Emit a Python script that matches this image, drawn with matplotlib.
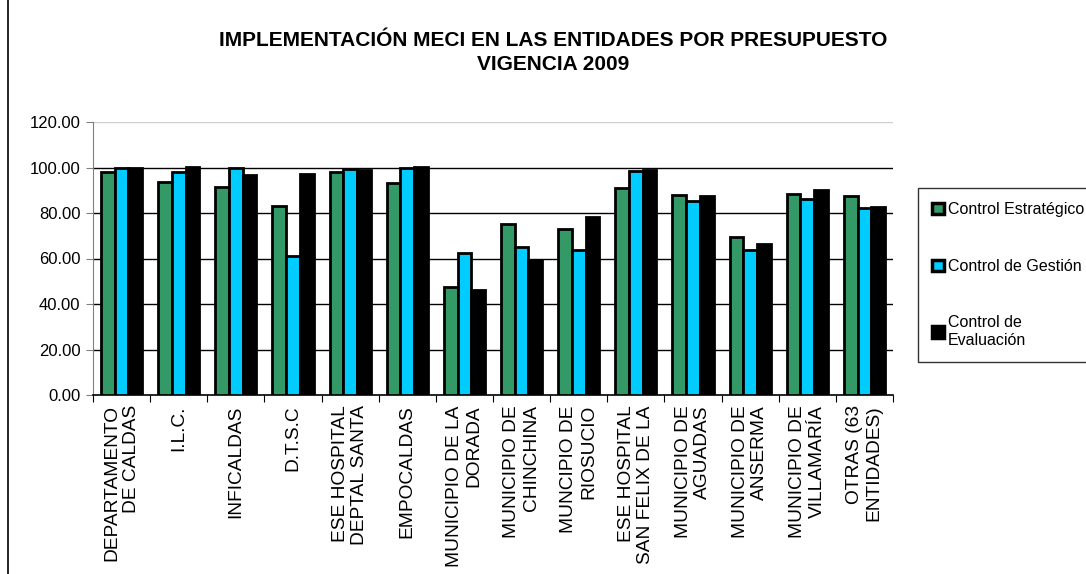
import matplotlib
matplotlib.use("Agg")
import matplotlib.pyplot as plt
import numpy as np
from matplotlib.patches import Rectangle
from matplotlib.lines import Line2D

plt.rcParams['font.family'] = ['Liberation Sans', 'DejaVu Sans']

categories = [
    "DEPARTAMENTO\nDE CALDAS", "I.L.C.", "INFICALDAS", "D.T.S.C",
    "ESE HOSPITAL\nDEPTAL SANTA", "EMPOCALDAS", "MUNICIPIO DE LA\nDORADA",
    "MUNICIPIO DE\nCHINCHINA", "MUNCIPIO DE\nRIOSUCIO", "ESE HOSPITAL\nSAN FELIX DE LA",
    "MUNICIPIO DE\nAGUADAS", "MUNICIPIO DE\nANSERMA", "MUNICIPIO DE\nVILLAMARÍA",
    "OTRAS (63\nENTIDADES)",
]
control_estrategico = [97.9, 93.8, 91.6, 83.1, 97.9, 93.2, 47.6, 75.0, 72.8, 91.1, 87.8, 69.6, 88.4, 87.3]
control_gestion = [99.9, 97.9, 99.9, 61.2, 99.3, 99.9, 62.6, 64.9, 63.7, 98.5, 85.3, 63.7, 86.2, 82.3]
control_evaluacion = [100.0, 100.3, 96.6, 97.1, 98.9, 100.3, 46.2, 59.3, 78.1, 98.9, 87.5, 66.2, 90.1, 82.8]
series_names = ["Control Estratégico", "Control de Gestión", "Control de\nEvaluación"]
yticks = [0, 20, 40, 60, 80, 100, 120]

colors = ["#339966", "#00CCFF", "#000000"]

fig = plt.figure(figsize=(10.86, 5.74), dpi=100)
ax = fig.add_axes([93/1086, 1-395/574, 800/1086, 273/574])

n = len(categories)
x = np.arange(n)
w = 0.24
for i, (vals, c) in enumerate(zip([control_estrategico, control_gestion, control_evaluacion], colors)):
    ax.bar(x + (i - 1) * w, vals, width=w, color=c, edgecolor="black", linewidth=2.0, zorder=3)

ax.set_xlim(-0.5, n - 0.5)
ax.set_ylim(0, 120)
ax.set_yticks(yticks)
ax.set_yticklabels([f"{v:.2f}" for v in yticks], fontsize=12)
for v in yticks[1:-1]:
    ax.axhline(v, color="black", linewidth=1.0, zorder=1)
ax.axhline(120, color="#d0d0d0", linewidth=1.0, zorder=1)

for s in ["top", "right"]:
    ax.spines[s].set_visible(False)
ax.spines["left"].set_color("#808080")
ax.spines["bottom"].set_color("black")
ax.spines["bottom"].set_linewidth(1.2)
ax.tick_params(axis="y", direction="out", length=5, color="#808080", pad=4)

ax.set_xticks(np.arange(n + 1) - 0.5, minor=False)
ax.set_xticklabels([])
ax.tick_params(axis="x", direction="out", length=5, color="black")
for xi, lab in zip(x, categories):
    ax.text(xi, -4.5, lab, rotation=90, ha="center", va="top", multialignment="right",
            fontsize=13.8, transform=ax.transData, clip_on=False)

fig.text(553/1086, 1-40/574, "IMPLEMENTACIÓN MECI EN LAS ENTIDADES POR PRESUPUESTO",
         ha="center", va="center", fontsize=15, fontweight="bold")
fig.text(553/1086, 1-64/574, "VIGENCIA 2009",
         ha="center", va="center", fontsize=15, fontweight="bold")

# legend
handles = [Rectangle((0, 0), 1, 1, facecolor=c, edgecolor="black", linewidth=2.5) for c in colors]
leg = fig.legend(handles, series_names, loc="upper left", bbox_to_anchor=(918/1086, 1-188/574),
                 frameon=True, fancybox=False, edgecolor="black", fontsize=11.5,
                 handlelength=0.7, handleheight=0.7, handletextpad=0.25, labelspacing=2.6,
                 borderpad=0.9, borderaxespad=0)
leg.get_frame().set_linewidth(1.0)

# figure frame left line
fig.add_artist(Line2D([8/1086, 8/1086], [0, 1], color="black", linewidth=1.2, transform=fig.transFigure))

fig.savefig("out.png", dpi=100)
